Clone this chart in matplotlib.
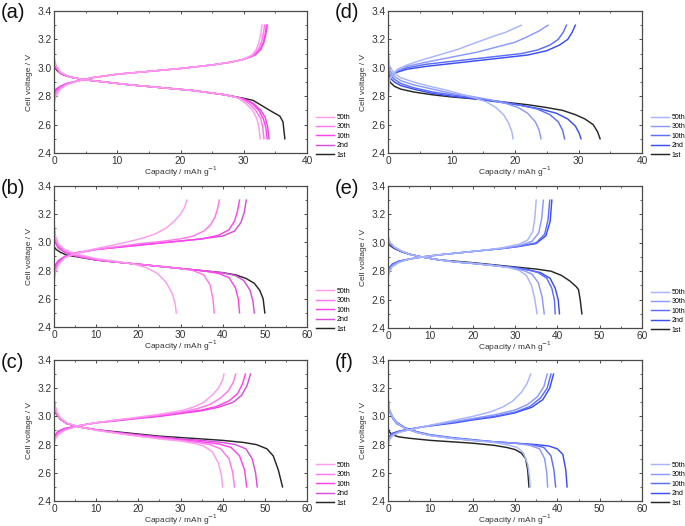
import matplotlib.pyplot as plt
from matplotlib.ticker import MultipleLocator

plt.rcParams['font.family'] = ['Liberation Sans', 'DejaVu Sans']

cycles = ['50th', '30th', '10th', '2nd', '1st']
pink = ['#ff9cee', '#ff78ee', '#ff44ee', '#d94fdc', '#262626']
blue = ['#a9b5ff', '#8b99ff', '#5d6eff', '#3b4ef2', '#262626']

# (a) discharge / charge curves: (capacity, voltage)
dis_a = {
    '1st': ([0, 0.5, 1.5, 3, 5, 8, 12, 17, 22, 27, 30, 31.5, 33, 34.5, 35.7, 36.2, 36.5],
            [3.01, 2.98, 2.95, 2.93, 2.915, 2.9, 2.88, 2.86, 2.84, 2.81, 2.785, 2.77, 2.73, 2.69, 2.66, 2.62, 2.5]),
    '2nd': ([0, 0.3, 1, 2.5, 5, 8, 12, 17, 22, 27, 30, 31.5, 32.7, 33.4, 33.8, 34.0],
            [3.04, 3.0, 2.96, 2.935, 2.915, 2.9, 2.88, 2.86, 2.84, 2.81, 2.78, 2.75, 2.7, 2.65, 2.58, 2.5]),
    '10th': ([0, 0.3, 1, 2.5, 5, 8, 12, 17, 22, 27, 30, 31.3, 32.4, 33.1, 33.5, 33.7],
             [3.05, 3.0, 2.96, 2.935, 2.915, 2.9, 2.88, 2.86, 2.84, 2.81, 2.78, 2.75, 2.7, 2.64, 2.58, 2.5]),
    '30th': ([0, 0.3, 1, 2.5, 5, 8, 12, 17, 22, 27, 29.5, 30.8, 31.9, 32.7, 33.0, 33.2],
             [3.06, 3.01, 2.965, 2.935, 2.915, 2.9, 2.88, 2.86, 2.84, 2.81, 2.785, 2.75, 2.7, 2.64, 2.58, 2.5]),
    '50th': ([0, 0.3, 1, 2.5, 5, 8, 12, 17, 22, 27, 29, 30.3, 31.4, 32.1, 32.4, 32.6],
             [3.08, 3.02, 2.97, 2.935, 2.915, 2.9, 2.88, 2.86, 2.84, 2.81, 2.79, 2.75, 2.7, 2.64, 2.58, 2.5]),
}
chg_a = {
    '2nd': ([0, 0.3, 1, 2, 3.5, 6, 10, 15, 20, 25, 28, 30, 31.8, 32.7, 33.2, 33.5, 33.7],
            [2.82, 2.85, 2.87, 2.89, 2.905, 2.93, 2.955, 2.975, 2.995, 3.02, 3.04, 3.06, 3.09, 3.13, 3.18, 3.24, 3.3]),
    '10th': ([0, 0.3, 1, 2, 3.5, 6, 10, 15, 20, 25, 28, 30, 31.7, 32.6, 33.1, 33.4, 33.6],
             [2.8, 2.84, 2.865, 2.888, 2.905, 2.93, 2.955, 2.975, 2.995, 3.02, 3.04, 3.06, 3.09, 3.13, 3.18, 3.24, 3.3]),
    '30th': ([0, 0.3, 1, 2, 3.5, 6, 10, 15, 20, 25, 28, 30, 31.5, 32.3, 32.8, 33.1, 33.3],
             [2.78, 2.82, 2.86, 2.885, 2.905, 2.93, 2.955, 2.975, 2.995, 3.02, 3.04, 3.06, 3.09, 3.13, 3.18, 3.24, 3.3]),
    '50th': ([0, 0.3, 1, 2, 3.5, 6, 10, 15, 20, 25, 28, 30, 31.3, 32.0, 32.4, 32.7, 32.9],
             [2.75, 2.8, 2.85, 2.88, 2.905, 2.93, 2.955, 2.975, 2.995, 3.02, 3.04, 3.06, 3.09, 3.13, 3.18, 3.24, 3.3]),
}

# (b)
dis_b = {
    '1st': ([0, 0.5, 1.5, 3, 5, 10, 15, 20, 25, 30, 35, 40, 43, 45.5, 47.5, 48.8, 49.6, 50.0],
            [2.97, 2.95, 2.93, 2.91, 2.9, 2.875, 2.86, 2.845, 2.83, 2.815, 2.8, 2.785, 2.77, 2.745, 2.71, 2.66, 2.6, 2.5]),
    '2nd': ([0, 0.3, 1, 2.5, 5, 10, 15, 20, 25, 30, 35, 40, 43, 45, 46.5, 47.2, 47.5],
            [3.05, 3.0, 2.96, 2.93, 2.905, 2.875, 2.86, 2.845, 2.83, 2.815, 2.8, 2.785, 2.765, 2.73, 2.66, 2.58, 2.5]),
    '10th': ([0, 0.3, 1, 2.5, 5, 10, 15, 20, 25, 30, 35, 39, 41.5, 43, 43.7, 44.0],
             [3.1, 3.02, 2.97, 2.935, 2.905, 2.875, 2.86, 2.845, 2.83, 2.815, 2.8, 2.78, 2.75, 2.68, 2.6, 2.5]),
    '30th': ([0, 0.3, 1, 2.5, 5, 10, 15, 20, 25, 30, 33, 35.5, 37, 37.7, 38.0],
             [3.12, 3.03, 2.98, 2.94, 2.91, 2.88, 2.86, 2.845, 2.83, 2.815, 2.8, 2.77, 2.7, 2.6, 2.5]),
    '50th': ([0, 0.3, 1, 2.5, 5, 10, 15, 19, 22, 24.5, 26.5, 28, 28.7, 29.0],
             [3.15, 3.05, 2.99, 2.95, 2.92, 2.885, 2.865, 2.845, 2.82, 2.78, 2.72, 2.64, 2.57, 2.5]),
}
chg_b = {
    '2nd': ([0, 0.3, 1, 2.5, 5, 10, 15, 20, 25, 30, 35, 40, 42.8, 44.3, 45.1, 45.6],
            [2.8, 2.84, 2.87, 2.9, 2.925, 2.95, 2.965, 2.98, 2.995, 3.01, 3.025, 3.045, 3.08, 3.14, 3.21, 3.3]),
    '10th': ([0, 0.3, 1, 2.5, 5, 10, 15, 20, 25, 30, 35, 39, 41.5, 42.8, 43.5, 44.0],
             [2.78, 2.82, 2.86, 2.895, 2.925, 2.95, 2.965, 2.98, 2.995, 3.01, 3.025, 3.05, 3.09, 3.15, 3.22, 3.3]),
    '30th': ([0, 0.3, 1, 2.5, 5, 10, 15, 20, 25, 30, 33, 35.5, 37, 38.2, 38.8, 39.2],
             [2.75, 2.8, 2.85, 2.89, 2.92, 2.95, 2.97, 2.99, 3.005, 3.025, 3.045, 3.08, 3.12, 3.18, 3.24, 3.3]),
    '50th': ([0, 0.3, 1, 2.5, 5, 9, 13, 17, 21, 24, 26.5, 28.5, 30, 31, 31.5],
             [2.7, 2.78, 2.84, 2.89, 2.92, 2.95, 2.975, 3.0, 3.03, 3.06, 3.1, 3.15, 3.2, 3.25, 3.3]),
}

# (c)
dis_c = {
    '1st': ([0, 0.5, 1.5, 3, 6, 10, 15, 20, 25, 30, 35, 40, 45, 48, 50.5, 52, 53.2, 54.2],
            [3.08, 3.02, 2.98, 2.95, 2.925, 2.905, 2.89, 2.875, 2.86, 2.85, 2.84, 2.83, 2.815, 2.8, 2.77, 2.72, 2.62, 2.5]),
    '2nd': ([0, 0.5, 1.5, 3, 6, 10, 15, 20, 25, 30, 35, 40, 43, 45.5, 47, 47.8, 48.2],
            [3.1, 3.03, 2.98, 2.95, 2.925, 2.905, 2.885, 2.87, 2.855, 2.84, 2.83, 2.815, 2.8, 2.77, 2.7, 2.6, 2.5]),
    '10th': ([0, 0.5, 1.5, 3, 6, 10, 15, 20, 25, 30, 35, 39, 42, 44, 45.2, 45.7],
             [3.12, 3.03, 2.98, 2.95, 2.925, 2.905, 2.885, 2.865, 2.85, 2.835, 2.82, 2.805, 2.78, 2.72, 2.62, 2.5]),
    '30th': ([0, 0.5, 1.5, 3, 6, 10, 15, 20, 25, 30, 34, 37, 39.5, 41.5, 42.4, 42.8],
             [3.12, 3.03, 2.98, 2.95, 2.925, 2.905, 2.88, 2.86, 2.845, 2.83, 2.815, 2.8, 2.77, 2.7, 2.6, 2.5]),
    '50th': ([0, 0.5, 1.5, 3, 6, 10, 15, 20, 25, 30, 33, 35.5, 37.5, 39, 39.7, 40.0],
             [3.13, 3.04, 2.99, 2.955, 2.925, 2.9, 2.88, 2.86, 2.84, 2.825, 2.81, 2.79, 2.75, 2.67, 2.58, 2.5]),
}
chg_c = {
    '2nd': ([0, 0.3, 1, 2.5, 6, 10, 15, 20, 25, 30, 35, 39, 42.5, 44.5, 45.8, 46.6],
            [2.85, 2.87, 2.895, 2.915, 2.935, 2.955, 2.97, 2.985, 3.0, 3.02, 3.04, 3.065, 3.1, 3.15, 3.22, 3.3]),
    '10th': ([0, 0.3, 1, 2.5, 6, 10, 15, 20, 25, 30, 35, 38.5, 41.5, 43.5, 44.7, 45.4],
             [2.84, 2.86, 2.89, 2.91, 2.935, 2.955, 2.97, 2.99, 3.005, 3.025, 3.045, 3.07, 3.11, 3.16, 3.23, 3.3]),
    '30th': ([0, 0.3, 1, 2.5, 6, 10, 15, 20, 25, 30, 34, 37, 39.5, 41.3, 42.5, 43.1],
             [2.82, 2.85, 2.88, 2.905, 2.935, 2.955, 2.975, 2.99, 3.01, 3.03, 3.055, 3.085, 3.13, 3.18, 3.24, 3.3]),
    '50th': ([0, 0.3, 1, 2.5, 6, 10, 15, 20, 25, 30, 33, 35.5, 37.5, 39, 40, 40.3],
             [2.8, 2.84, 2.87, 2.9, 2.935, 2.955, 2.975, 2.995, 3.015, 3.04, 3.065, 3.1, 3.15, 3.2, 3.26, 3.3]),
}

# (d)
dis_d = {
    '1st': ([0, 0.3, 1, 2, 4, 7, 10, 14, 18, 22, 25, 27.5, 29.5, 31, 32.3, 33.0, 33.4],
            [2.95, 2.9, 2.87, 2.85, 2.83, 2.81, 2.795, 2.78, 2.76, 2.74, 2.72, 2.7, 2.67, 2.64, 2.6, 2.55, 2.5]),
    '2nd': ([0, 0.3, 1, 2, 4, 7, 10, 14, 18, 21, 24, 26.5, 28.3, 29.5, 30.1, 30.4],
            [3.0, 2.93, 2.9, 2.875, 2.85, 2.82, 2.8, 2.78, 2.755, 2.735, 2.71, 2.68, 2.64, 2.59, 2.54, 2.5]),
    '10th': ([0, 0.3, 1, 2, 4, 7, 10, 14, 18, 21, 23.5, 25.5, 26.8, 27.5, 27.8],
             [3.03, 2.95, 2.92, 2.89, 2.86, 2.83, 2.81, 2.785, 2.76, 2.735, 2.71, 2.67, 2.62, 2.56, 2.5]),
    '30th': ([0, 0.3, 1, 2, 4, 7, 10, 13, 16, 18.5, 20.5, 22, 23.2, 23.8, 24.1],
             [3.06, 2.98, 2.94, 2.91, 2.88, 2.85, 2.82, 2.8, 2.775, 2.75, 2.72, 2.68, 2.62, 2.56, 2.5]),
    '50th': ([0, 0.2, 0.8, 2, 4, 6.5, 9, 11.5, 13.5, 15.5, 17, 18.2, 19.0, 19.5, 19.7],
             [3.15, 3.02, 2.97, 2.93, 2.9, 2.87, 2.845, 2.815, 2.79, 2.76, 2.72, 2.67, 2.61, 2.55, 2.5]),
}
chg_d = {
    '2nd': ([0, 0.2, 0.6, 1.5, 3, 6, 10, 14, 18, 22, 25, 27, 28.3, 29.0, 29.5],
            [2.9, 2.93, 2.95, 2.97, 2.99, 3.01, 3.03, 3.05, 3.07, 3.09, 3.12, 3.16, 3.2, 3.25, 3.3]),
    '10th': ([0, 0.2, 0.6, 1.5, 3, 6, 10, 14, 18, 21, 23.5, 25.5, 26.8, 27.6, 28.1],
             [2.88, 2.93, 2.955, 2.98, 3.0, 3.025, 3.045, 3.065, 3.085, 3.1, 3.125, 3.16, 3.2, 3.25, 3.3]),
    '30th': ([0, 0.2, 0.6, 1.5, 3, 6, 10, 14, 17, 20, 22, 23.8, 25.2],
             [2.85, 2.92, 2.95, 2.98, 3.01, 3.04, 3.075, 3.11, 3.145, 3.18, 3.22, 3.26, 3.3]),
    '50th': ([0, 0.2, 0.6, 1.5, 3, 5, 8, 11, 14, 16.5, 18.5, 20, 21],
             [2.78, 2.9, 2.95, 2.99, 3.02, 3.05, 3.09, 3.13, 3.18, 3.22, 3.25, 3.28, 3.3]),
}

# (e)
dis_e = {
    '1st': ([0, 0.5, 1.5, 3, 5, 8, 12, 16, 20, 25, 30, 35, 38.5, 41, 43, 44.5, 45, 45.4, 45.8],
            [3.0, 2.98, 2.96, 2.94, 2.92, 2.9, 2.88, 2.87, 2.86, 2.845, 2.83, 2.815, 2.8, 2.77, 2.73, 2.69, 2.67, 2.6, 2.5]),
    '2nd': ([0, 0.5, 1.5, 3, 5, 8, 12, 16, 20, 25, 30, 33, 36, 38.3, 39.5, 40.2, 40.5],
            [3.02, 2.99, 2.965, 2.94, 2.92, 2.9, 2.88, 2.865, 2.855, 2.84, 2.825, 2.81, 2.79, 2.75, 2.68, 2.6, 2.5]),
    '10th': ([0, 0.5, 1.5, 3, 5, 8, 12, 16, 20, 25, 30, 33, 35.5, 37.5, 38.7, 39.3, 39.5],
             [3.03, 2.99, 2.965, 2.94, 2.92, 2.9, 2.88, 2.865, 2.855, 2.84, 2.825, 2.81, 2.79, 2.75, 2.68, 2.6, 2.5]),
    '30th': ([0, 0.5, 1.5, 3, 5, 8, 12, 16, 20, 25, 29, 32, 34, 35.5, 36.4, 36.9],
             [3.04, 3.0, 2.97, 2.945, 2.92, 2.9, 2.88, 2.865, 2.855, 2.84, 2.825, 2.805, 2.78, 2.72, 2.62, 2.5]),
    '50th': ([0, 0.5, 1.5, 3, 5, 8, 12, 16, 20, 25, 28.5, 31, 32.7, 33.9, 34.7, 35.2],
             [3.05, 3.0, 2.97, 2.945, 2.92, 2.9, 2.88, 2.865, 2.855, 2.84, 2.825, 2.805, 2.77, 2.7, 2.6, 2.5]),
}
chg_e = {
    '2nd': ([0, 0.3, 1, 2.5, 5, 8, 12, 17, 22, 27, 31, 35, 37.3, 38.3, 38.7],
            [2.8, 2.825, 2.85, 2.87, 2.885, 2.9, 2.915, 2.93, 2.945, 2.96, 2.975, 2.995, 3.05, 3.15, 3.3]),
    '10th': ([0, 0.3, 1, 2.5, 5, 8, 12, 17, 22, 27, 31, 35, 37, 37.8, 38.2],
             [2.8, 2.82, 2.845, 2.87, 2.885, 2.9, 2.915, 2.93, 2.945, 2.96, 2.975, 3.0, 3.06, 3.16, 3.3]),
    '30th': ([0, 0.3, 1, 2.5, 5, 8, 12, 17, 22, 27, 31, 34, 35.6, 36.3, 36.7],
             [2.78, 2.81, 2.84, 2.865, 2.885, 2.9, 2.915, 2.93, 2.945, 2.96, 2.98, 3.01, 3.07, 3.17, 3.3]),
    '50th': ([0, 0.3, 1, 2.5, 5, 8, 12, 17, 22, 27, 31, 33, 34.2, 34.7, 35.0],
             [2.75, 2.79, 2.83, 2.86, 2.885, 2.9, 2.915, 2.93, 2.945, 2.965, 2.99, 3.02, 3.08, 3.18, 3.3]),
}

# (f)
dis_f = {
    '1st': ([0, 0.3, 1, 2.5, 5, 10, 15, 20, 25, 28, 30, 31.5, 32.5, 33.0, 33.3],
            [2.92, 2.89, 2.87, 2.855, 2.845, 2.83, 2.82, 2.81, 2.795, 2.78, 2.765, 2.74, 2.7, 2.62, 2.5]),
    '2nd': ([0, 0.3, 1, 2, 4, 7, 10, 15, 20, 25, 30, 35, 38, 40, 41.3, 42.0, 42.3],
            [3.12, 3.05, 3.0, 2.96, 2.92, 2.89, 2.87, 2.85, 2.835, 2.82, 2.81, 2.8, 2.79, 2.77, 2.73, 2.62, 2.5]),
    '10th': ([0, 0.3, 1, 2, 4, 7, 10, 15, 20, 25, 30, 34, 36.8, 38.5, 39.2, 39.6],
             [3.1, 3.04, 2.99, 2.95, 2.915, 2.885, 2.865, 2.845, 2.83, 2.82, 2.81, 2.8, 2.78, 2.72, 2.62, 2.5]),
    '30th': ([0, 0.3, 1, 2, 4, 7, 10, 15, 20, 25, 30, 33.5, 35.8, 37.0, 37.5, 37.7],
             [3.14, 3.05, 3.0, 2.955, 2.915, 2.885, 2.865, 2.845, 2.83, 2.82, 2.81, 2.795, 2.77, 2.7, 2.6, 2.5]),
    '50th': ([0, 0.3, 1, 2, 4, 7, 10, 15, 20, 25, 28, 30.5, 32, 33, 33.4, 33.6],
             [3.15, 3.05, 3.0, 2.955, 2.915, 2.885, 2.865, 2.845, 2.83, 2.815, 2.8, 2.78, 2.74, 2.66, 2.58, 2.5]),
}
chg_f = {
    '2nd': ([0, 0.3, 1, 2.5, 5, 8, 12, 16, 20, 25, 30, 34, 36.6, 38.2, 39.1],
            [2.85, 2.86, 2.88, 2.895, 2.91, 2.925, 2.94, 2.955, 2.975, 2.995, 3.025, 3.065, 3.12, 3.2, 3.3]),
    '10th': ([0, 0.3, 1, 2.5, 5, 8, 12, 16, 20, 25, 30, 33.5, 36, 37.6, 38.5],
             [2.84, 2.855, 2.875, 2.89, 2.905, 2.925, 2.945, 2.96, 2.98, 3.0, 3.03, 3.07, 3.13, 3.2, 3.3]),
    '30th': ([0, 0.3, 1, 2.5, 5, 8, 12, 16, 20, 25, 30, 33, 35.3, 36.8, 37.6],
             [2.82, 2.845, 2.87, 2.89, 2.905, 2.925, 2.945, 2.965, 2.985, 3.01, 3.045, 3.085, 3.14, 3.21, 3.3]),
    '50th': ([0, 0.3, 1, 2.5, 5, 8, 12, 16, 20, 24, 27, 29.5, 31.5, 32.8, 33.7],
             [2.78, 2.83, 2.86, 2.885, 2.905, 2.925, 2.95, 2.975, 3.0, 3.03, 3.065, 3.11, 3.17, 3.23, 3.3]),
}

panels = [
    ('(a)', dis_a, chg_a, pink, 40, [54, 11, 307, 153]),
    ('(b)', dis_b, chg_b, pink, 60, [54, 186, 307, 327]),
    ('(c)', dis_c, chg_c, pink, 60, [54, 360, 307, 501]),
    ('(d)', dis_d, chg_d, blue, 40, [388, 11, 642, 153]),
    ('(e)', dis_e, chg_e, blue, 60, [388, 186, 642, 328]),
    ('(f)', dis_f, chg_f, blue, 60, [388, 360, 642, 501]),
]

W, H = 685, 526
fig = plt.figure(figsize=(W / 100, H / 100), dpi=100)
axcol = '#4a4a4a'

for tag, dis, chg, cols, xmax, (x0, y0, x1, y1) in panels:
    ax = fig.add_axes([x0 / W, 1 - y1 / H, (x1 - x0) / W, (y1 - y0) / H])
    col = dict(zip(cycles, cols))
    handles = {}
    for cyc in ['1st', '2nd', '10th', '30th', '50th']:
        xs, vs = dis[cyc]
        h, = ax.plot(xs, vs, color=col[cyc], lw=1.05)
        handles[cyc] = h
        if cyc in chg:
            xs, vs = chg[cyc]
            ax.plot(xs, vs, color=col[cyc], lw=1.05)
    ax.set_xlim(0, xmax)
    ax.set_ylim(2.4, 3.4)
    ax.xaxis.set_major_locator(MultipleLocator(10))
    ax.xaxis.set_minor_locator(MultipleLocator(5))
    ax.yaxis.set_major_locator(MultipleLocator(0.2))
    ax.yaxis.set_minor_locator(MultipleLocator(0.1))
    ax.yaxis.set_major_formatter(plt.FuncFormatter(lambda v, p: f'{v:.1f}'))
    ax.tick_params(which='both', direction='in', top=True, right=True,
                   color=axcol, labelcolor='#333333', labelsize=7.3, pad=2)
    ax.tick_params(which='major', length=2.5, width=0.7)
    ax.tick_params(which='minor', length=1.5, width=0.6)
    for s in ax.spines.values():
        s.set_color(axcol)
        s.set_linewidth(0.9)
    ax.set_xlabel('Capacity / mAh g$^{-1}$', fontsize=6, color='#333333', labelpad=-0.5)
    ax.set_ylabel('Cell voltage / V', fontsize=6, color='#333333', labelpad=3)
    ax.legend([handles[c] for c in cycles], cycles, loc='lower left',
              bbox_to_anchor=(1.035, -0.04), frameon=False, fontsize=5,
              handlelength=2.6, handletextpad=0.4, labelspacing=0.35,
              borderaxespad=0, borderpad=0)
    fig.text((x0 - 53) / W, 1 - (y0 + 2) / H, tag, fontsize=14.5,
             ha='left', va='center', color='#111111')

fig.savefig('out.png', dpi=100)
